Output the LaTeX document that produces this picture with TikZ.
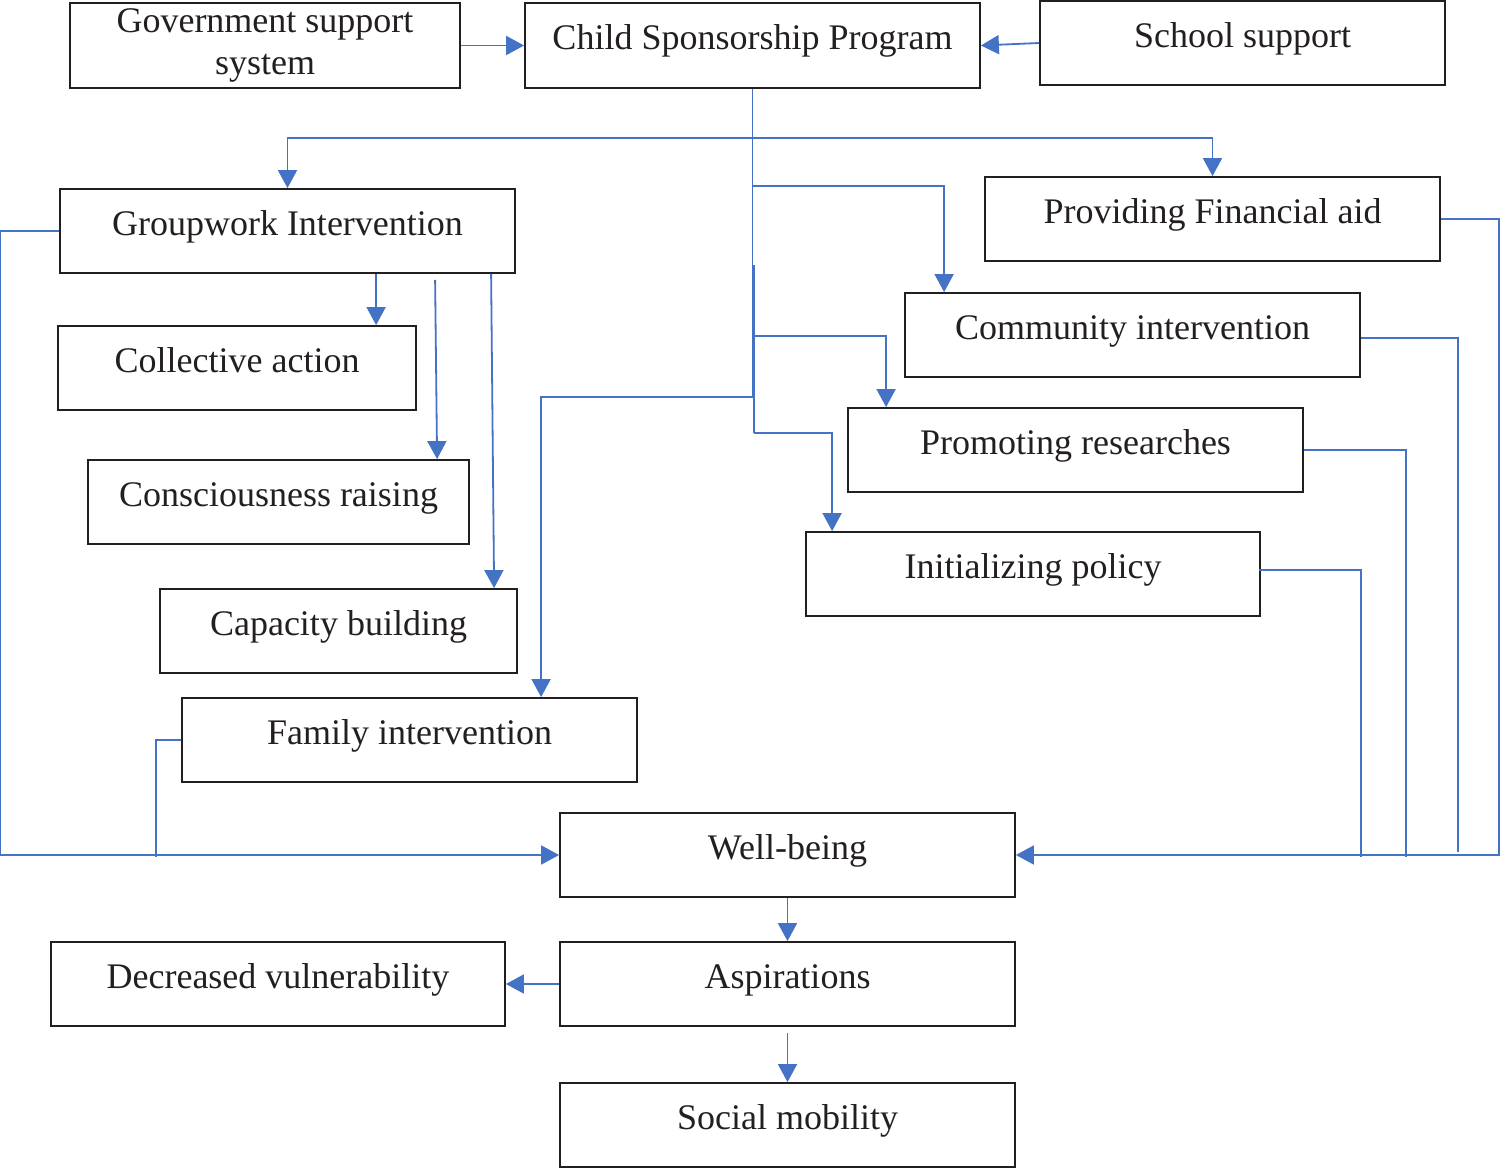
\documentclass[tikz,border=0pt]{standalone}
\usepackage{fontspec}
\setmainfont{Liberation Serif}
\usetikzlibrary{arrows.meta,calc}
\definecolor{lnblue}{HTML}{4472C4}
\definecolor{bxline}{HTML}{231F20}
\tikzset{
  boxbase/.style={draw=bxline, line width=1.8pt, inner sep=0pt, rectangle,
    minimum height=84pt, font=\fontsize{36}{42}\selectfont, text=bxline},
  onebox/.style={boxbase, text height=26pt, text depth=17pt},
  twobox/.style={boxbase, align=center},
  wire/.style={draw=lnblue, line width=1.8pt},
  conn/.style={wire, -{Triangle[length=18pt,width=19pt]}}
}
\begin{document}
\begin{tikzpicture}[x=1pt,y=-1pt]
\useasboundingbox (0,0) rectangle (1500,1169);
% boxes
\node[twobox, minimum width=390pt, minimum height=85pt] (gov) at (265,45.5) {Government support\\system};
\node[onebox, minimum width=455pt, minimum height=85pt] (csp) at (752.5,45.5) {Child Sponsorship Program};
\node[onebox, minimum width=405pt] (school) at (1242.5,43) {School support};
\node[onebox, minimum width=455pt] (fin) at (1212.5,219) {Providing Financial aid};
\node[onebox, minimum width=455pt] (group) at (287.5,231) {Groupwork Intervention};
\node[onebox, minimum width=455pt] (comm) at (1132.5,335) {Community intervention};
\node[onebox, minimum width=358pt] (coll) at (237,368) {Collective action};
\node[onebox, minimum width=455pt] (prom) at (1075.5,450) {Promoting researches};
\node[onebox, minimum width=381pt] (cons) at (278.5,502) {Consciousness raising};
\node[onebox, minimum width=454pt] (init) at (1033,574) {Initializing policy};
\node[onebox, minimum width=357pt] (cap) at (338.5,631) {Capacity building};
\node[onebox, minimum width=455pt] (fam) at (409.5,740) {Family intervention};
\node[onebox, minimum width=455pt] (well) at (787.5,855) {Well-being};
\node[onebox, minimum width=454pt] (dec) at (278,984) {Decreased vulnerability};
\node[onebox, minimum width=455pt] (asp) at (787.5,984) {Aspirations};
\node[onebox, minimum width=455pt] (soc) at (787.5,1125) {Social mobility};
% trunk coordinates
\coordinate (tA) at (752.5,138);
\coordinate (tB) at (752.5,186);
\coordinate (tC) at (754,336);
\coordinate (tD) at (752.5,397);
\coordinate (tE) at (754,433);
\coordinate (tF) at (754,265);
% top connectors
\draw[conn] (gov.east) -- (csp.west);
\draw[conn] (school.west) -- (csp.east);
\draw[wire] (csp.south) -- (tD);
\draw[wire] (tF) -- (tE);
\draw[conn] (tA) -| (group.north);
\draw[conn] (tA) -| (fin.north);
\draw[conn] (tB) -| ($(comm.north west)+(40,0)$);
\draw[conn] (tC) -| ($(prom.north west)+(39,0)$);
\draw[conn] (tD) -| ($(fam.north west)+(360,0)$);
\draw[conn] (tE) -| ($(init.north west)+(27,0)$);
% groupwork children
\draw[conn] ($(group.south west)+(317,0)$) -- ($(coll.north west)+(319,0)$);
\draw[conn] ($(group.south west)+(376,6)$) -- ($(cons.north west)+(350,0)$);
\draw[conn] ($(group.south west)+(432,0)$) -- ($(cap.north west)+(335,0)$);
% left feedback to well-being
\draw[conn] (group.west) -- ++(-59,0) |- (well.west);
\draw[wire] (fam.west) -| ($(well.west)+(-403,2)$);
% right feedback to well-being
\draw[conn] (fin.east) -- ++(58,0) |- (well.east);
\draw[wire] ($(comm.east)+(0,3)$) -| ($(well.east)+(442,-3)$);
\draw[wire] (prom.east) -| ($(well.east)+(390,2)$);
\draw[wire] ($(init.east)+(-2,-4)$) -| ($(well.east)+(345,2)$);
% bottom chain
\draw[conn] (well.south) -- (asp.north);
\draw[conn] (asp.west) -- (dec.east);
\draw[conn] ($(asp.south)+(0,6)$) -- (soc.north);
\end{tikzpicture}
\end{document}
